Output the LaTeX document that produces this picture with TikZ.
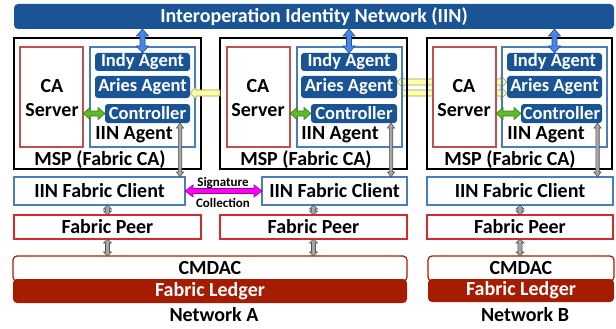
\documentclass[tikz,border=0pt]{standalone}
\usepackage{fontspec}
\setmainfont{Carlito}
\usetikzlibrary{calc}
\pgfdeclarelayer{bg}
\pgfsetlayers{bg,main}
\definecolor{dblue}{HTML}{1A5494}
\definecolor{agblue}{HTML}{4A7EBB}
\definecolor{cared}{HTML}{C0504D}
\definecolor{peerred}{HTML}{D42A2A}
\definecolor{ledred}{HTML}{A51C00}
\definecolor{arrblue}{HTML}{4A86E8}
\definecolor{arrgreen}{HTML}{5DBB2B}
\definecolor{arrgreenD}{HTML}{3B7F1A}
\definecolor{arrgray}{HTML}{A6A6A6}
\definecolor{arrgrayD}{HTML}{505050}
\definecolor{arryel}{HTML}{FFFFA8}
\definecolor{arryelD}{HTML}{9A9A60}
\definecolor{arrmag}{HTML}{FF00FF}
\definecolor{arrmagD}{HTML}{9A009A}
% double-headed block arrow: style, from, to, shaft half width, head half width, head length
\newcommand\dblarr[6]{%
  \draw[#1] (#2)
   -- ($(#2)!#6!(#3)!#5!90:(#3)$)
   -- ($(#2)!#6!(#3)!#4!90:(#3)$)
   -- ($(#3)!#6!(#2)!#4!-90:(#2)$)
   -- ($(#3)!#6!(#2)!#5!-90:(#2)$)
   -- (#3)
   -- ($(#3)!#6!(#2)!#5!90:(#2)$)
   -- ($(#3)!#6!(#2)!#4!90:(#2)$)
   -- ($(#2)!#6!(#3)!#4!-90:(#3)$)
   -- ($(#2)!#6!(#3)!#5!-90:(#3)$)
   -- cycle;}
% single-headed block arrow: style, tail, head, shaft half width, head half width, head length
\newcommand\snglarr[6]{%
  \draw[#1] ($(#2)!#4!90:(#3)$)
   -- ($(#3)!#6!(#2)!#4!-90:(#2)$)
   -- ($(#3)!#6!(#2)!#5!-90:(#2)$)
   -- (#3)
   -- ($(#3)!#6!(#2)!#5!90:(#2)$)
   -- ($(#3)!#6!(#2)!#4!90:(#2)$)
   -- ($(#2)!#4!-90:(#3)$)
   -- cycle;}
\tikzset{
  box/.style={inner sep=0pt, outer sep=0pt, anchor=north west},
  big/.style={font=\fontsize{20}{24}\selectfont\bfseries},
  agf/.style={font=\fontsize{18.5}{22}\selectfont\bfseries},
  small/.style={font=\fontsize{13}{15}\selectfont\bfseries},
  msp/.style={box, draw=black, line width=1.2pt},
  ca/.style={box, draw=cared, line width=1.2pt, fill=white},
  agent/.style={box, draw=agblue, line width=1.2pt},
  pill/.style={box, fill=dblue, rounded corners=3pt, text=white, agf},
  client/.style={box, draw=agblue, line width=1.2pt, big},
  peer/.style={box, draw=peerred, line width=1.2pt, big},
  cmdac/.style={box, draw=ledred, line width=1.2pt, fill=white, rounded corners=4pt, big},
  ledger/.style={box, fill=ledred, rounded corners=4pt, text=white, big},
  blueA/.style={fill=arrblue, draw=dblue, line width=0.6pt},
  greenA/.style={fill=arrgreen, draw=arrgreenD, line width=0.6pt},
  grayA/.style={fill=arrgray, draw=arrgrayD, line width=0.6pt},
  yelA/.style={fill=arryel, draw=arryelD, line width=0.6pt},
  magA/.style={fill=arrmag, draw=arrmagD, line width=0.6pt},
}
\begin{document}
\begin{tikzpicture}[x=1pt,y=-1pt]
\useasboundingbox (0,0) rectangle (616,329);
% top bar
\node[box, fill=dblue, rounded corners=4pt, text=white, big, minimum width=600pt, minimum height=25pt] (iin) at (14,4) {Interoperation Identity Network (IIN)};
% ---- network A ----
\node[msp, minimum width=187pt, minimum height=131pt] (mspA) at (14,38) {};
\node[ca, minimum width=63pt, minimum height=100pt] (caA) at (20,47) {};
\node[agent, minimum width=105pt, minimum height=100pt] (agA) at (90,47) {};
\node[pill, minimum width=95pt, minimum height=18pt] (indyA) at (95,53) {Indy Agent};
\node[pill, minimum width=95pt, minimum height=22pt] (ariesA) at (95,76) {Aries Agent};
\node[pill, minimum width=85pt, minimum height=19pt] (ctrlA) at (105,104) {Controller};
\node[big, align=center] (caAt) at (52,98) {CA\\Server};
\node[big] (agAt) at (134,135) {IIN Agent};
\node[big] (mspAt) at (100,160) {MSP (Fabric CA)};
% ---- network B ----
\node[msp, minimum width=187pt, minimum height=131pt] (mspB) at (220,38) {};
\node[ca, minimum width=63pt, minimum height=100pt] (caB) at (227,47) {};
\node[agent, minimum width=105pt, minimum height=100pt] (agB) at (297,47) {};
\node[pill, minimum width=96pt, minimum height=18pt] (indyB) at (301,53) {Indy Agent};
\node[pill, minimum width=96pt, minimum height=22pt] (ariesB) at (301,76) {Aries Agent};
\node[pill, minimum width=86pt, minimum height=19pt] (ctrlB) at (311,104) {Controller};
\node[big, align=center] (caBt) at (258,98) {CA\\Server};
\node[big] (agBt) at (340,135) {IIN Agent};
\node[big] (mspBt) at (306,160) {MSP (Fabric CA)};
% ---- network C ----
\node[msp, minimum width=185pt, minimum height=131pt] (mspC) at (427,38) {};
\node[ca, minimum width=63pt, minimum height=100pt] (caC) at (433,47) {};
\node[agent, minimum width=105pt, minimum height=100pt] (agC) at (502,47) {};
\node[pill, minimum width=95pt, minimum height=18pt] (indyC) at (507,53) {Indy Agent};
\node[pill, minimum width=95pt, minimum height=22pt] (ariesC) at (507,76) {Aries Agent};
\node[pill, minimum width=81pt, minimum height=19pt] (ctrlC) at (521,104) {Controller};
\node[big, align=center] (caCt) at (464,98) {CA\\Server};
\node[big] (agCt) at (546,135) {IIN Agent};
\node[big] (mspCt) at (510,160) {MSP (Fabric CA)};
% ---- lower layers ----
\node[client, minimum width=171pt, minimum height=28pt] (clA) at (14,177) {IIN Fabric Client};
\node[client, minimum width=145pt, minimum height=28pt] (clB) at (262,177) {IIN Fabric Client};
\node[client, minimum width=186pt, minimum height=28pt] (clC) at (427,177) {IIN Fabric Client};
\node[peer, minimum width=187pt, minimum height=24pt] (peerA) at (14,215) {Fabric Peer};
\node[peer, minimum width=187pt, minimum height=24pt] (peerB) at (220,215) {Fabric Peer};
\node[peer, minimum width=186pt, minimum height=24pt] (peerC) at (427,215) {Fabric Peer};
\node[cmdac, minimum width=394pt, minimum height=25pt] (cmA) at (13,256) {CMDAC};
\node[ledger, minimum width=394pt, minimum height=24pt] (ledA) at (13,279) {Fabric Ledger};
\node[cmdac, minimum width=186pt, minimum height=25pt] (cmC) at (428,256) {CMDAC};
\node[ledger, minimum width=186pt, minimum height=23pt] (ledC) at (428,279) {Fabric Ledger};
\node[big] (netA) at (214,315) {Network A};
\node[big] (netB) at (525,315) {Network B};
\node[small] (sig) at (223,183) {Signature};
\node[small] (col) at (223,203) {Collection};
% ---- connectors ----
\foreach \n in {A,B,C}{
  \coordinate (b\n) at (iin.south -| indy\n.north);
  \coordinate (g\n) at (ca\n.east |- ctrl\n.west);
  \coordinate (p\n) at (cl\n.south -| peer\n.north);
  \coordinate (q\n) at (peer\n.south |- cmA.north);
}
\coordinate (cA1) at ([xshift=-10pt]ctrlA.south east);
\coordinate (cB1) at ([xshift=-6pt]ctrlB.south east);
\coordinate (cC1) at ([xshift=-4.5pt]ctrlC.south east);
\foreach \n in {A,B,C}{
  \coordinate (c\n2) at (c\n1 |- cl\n.north);
  \dblarr{blueA}{b\n}{indy\n.north}{2.5pt}{6pt}{7pt}
  \dblarr{greenA}{g\n}{ctrl\n.west}{2.5pt}{6pt}{7pt}
  \dblarr{grayA}{c\n1}{c\n2}{1.7pt}{3.5pt}{5pt}
  \dblarr{grayA}{p\n}{peer\n.north}{2pt}{4pt}{4pt}
  \dblarr{grayA}{peer\n.south}{q\n}{2pt}{4pt}{4pt}
}
\dblarr{magA}{clA.east}{clB.west}{2.5pt}{6pt}{8pt}
% yellow arrows
\coordinate (yA2) at ([yshift=-6pt]ariesA.east);
\coordinate (yA1) at (mspB.west |- yA2);
\snglarr{yelA}{yA1}{yA2}{3pt}{6pt}{6pt}
\coordinate (yB1) at ([yshift=5pt]ariesB.east);
\coordinate (yC1) at ([yshift=5pt]ariesC.west);
\coordinate (yC2) at ([yshift=-6pt]ariesC.west);
\coordinate (yB2) at (agB.east |- yC2);
\begin{pgfonlayer}{bg}
\dblarr{yelA}{yB1}{yC1}{3pt}{6pt}{6pt}
\snglarr{yelA}{yB2}{yC2}{3pt}{6pt}{6pt}
\end{pgfonlayer}
\end{tikzpicture}
\end{document}
